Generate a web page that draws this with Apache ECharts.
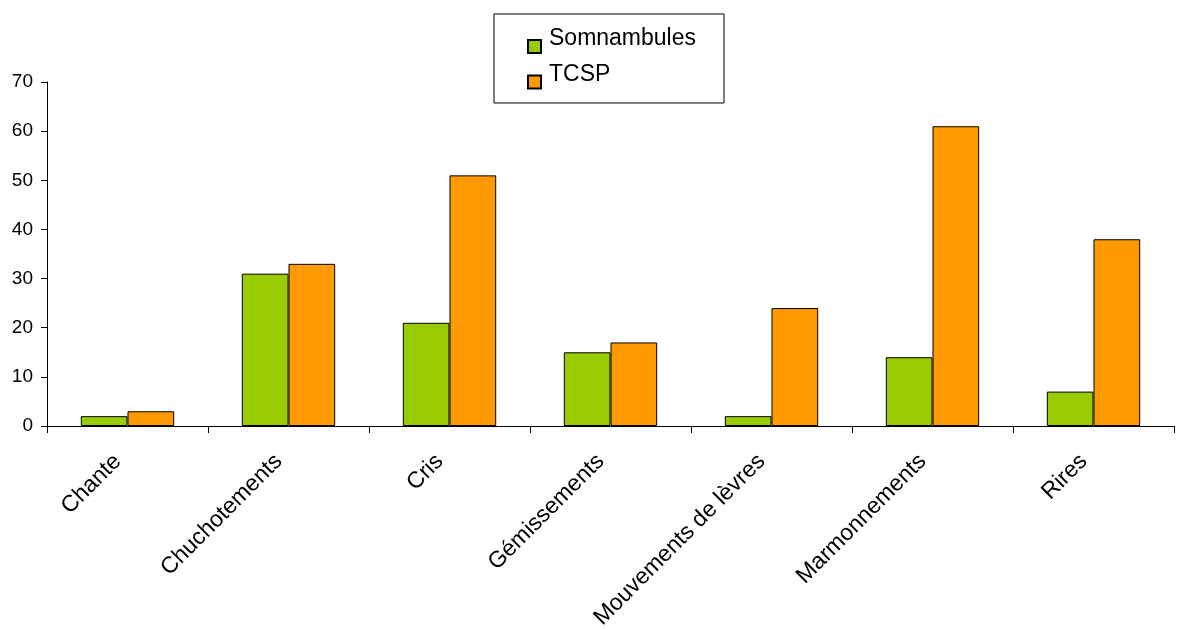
<!DOCTYPE html>
<html><head><meta charset="utf-8">
<script src="https://cdn.jsdelivr.net/npm/echarts@6/dist/echarts.min.js"></script>
<style>html,body{margin:0;padding:0;background:#fff}#c{width:1177px;height:630px}</style>
</head><body><div id="c"></div>
<script>
const categories = ["Chante","Chuchotements","Cris","Gémissements","Mouvements de lèvres","Marmonnements","Rires"];
const somnambules = [2,31,21,15,2,14,7];
const tcsp = [3,33,51,17,24,61,38];
const yTicks = [0,10,20,30,40,50,60,70];

const chart = echarts.init(document.getElementById('c'));
const font = 'Liberation Sans, Arial, sans-serif';
chart.setOption({
  animation:false,
  backgroundColor:'#fff',
  grid:{left:47,right:3,top:82,bottom:204,containLabel:false,outerBoundsMode:'none'},
  legend:{
    orient:'vertical', left:494, top:14,
    padding:[10,28,13.5,33],
    icon:'path://M0,0 M0,15 L13,15 L13,28 L0,28 Z',
    itemWidth:13,itemHeight:28,itemGap:5.5,
    borderColor:'#000',borderWidth:1,
    textStyle:{fontFamily:font,fontSize:23,color:'#000',lineHeight:24,padding:[0,0,0,3]},
    data:['Somnambules','TCSP']
  },
  xAxis:{
    type:'category',data:categories,
    axisLine:{lineStyle:{color:'#000',width:1}},
    axisTick:{show:true,length:7,lineStyle:{color:'#000'}},
    axisLabel:{rotate:45,fontFamily:font,fontSize:23,color:'#000',margin:22,interval:0,padding:[0,14,0,0]}
  },
  yAxis:{
    type:'value',min:yTicks[0],max:yTicks[yTicks.length-1],interval:10,
    axisLine:{show:true,lineStyle:{color:'#000',width:1}},
    axisTick:{show:true,length:6,lineStyle:{color:'#000'}},
    axisLabel:{fontFamily:font,fontSize:19,color:'#000',margin:14},
    splitLine:{show:false}
  },
  series:[
    {name:'Somnambules',type:'bar',data:somnambules,barGap:'0%',barCategoryGap:'42%',
     itemStyle:{color:'#99cc00',borderColor:'#000',borderWidth:1}},
    {name:'TCSP',type:'bar',data:tcsp,barGap:'0%',barCategoryGap:'42%',
     itemStyle:{color:'#ff9900',borderColor:'#000',borderWidth:1}}
  ]
});
</script></body></html>
